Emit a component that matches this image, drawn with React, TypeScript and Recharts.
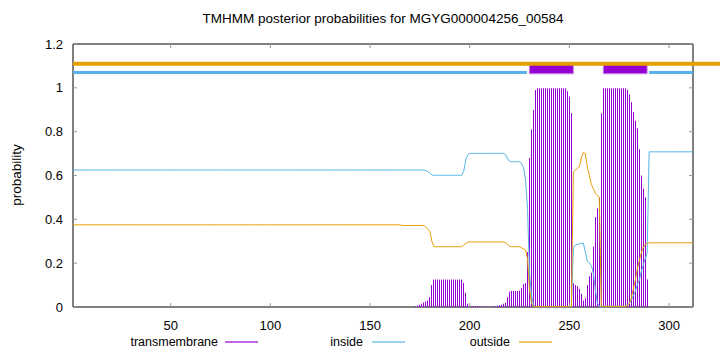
import React from 'react';
import { ComposedChart, Bar, Line, XAxis, YAxis, ReferenceArea, ReferenceLine } from 'recharts';

const FONT = '"Liberation Sans", Arial, Helvetica, sans-serif';

type Part = number | [number, number];
function expand(parts: Part[]): number[] {
  const out: number[] = [];
  for (const p of parts) {
    if (Array.isArray(p)) for (let i = 0; i < p[1]; i++) out.push(p[0]);
    else out.push(p);
  }
  return out;
}

const SEQ_LEN = 312;
const xTicks = [50, 100, 150, 200, 250, 300];
const yTicks = [0, 0.2, 0.4, 0.6, 0.8, 1, 1.2];

// posterior probabilities, run-length encoded: [value, count] or single value
const transmembraneRuns: Part[] = [
  [0, 172],
  0.003, 0.006, 0.01, 0.015, 0.02, 0.025, 0.03, 0.045, 0.1,
  [0.125, 15],
  0.11, 0.065, 0.015, 0.006,
  [0.004, 5],
  [0.002, 7],
  0.004, 0.006, 0.008, 0.01, 0.015, 0.02, 0.045, 0.07,
  [0.073, 4],
  0.075, 0.087, 0.105, 0.11, 0.25, 0.68, 0.81, 0.9, 0.99,
  [0.998, 15],
  0.985, 0.96, 0.885, 0.108, 0.1, 0.095, 0.083, 0.06, 0.03, 0.04, 0.1, 0.14, 0.157, 0.275, 0.41, 0.45, 0.5, 0.884,
  [0.998, 12],
  0.99, 0.97, 0.935, 0.89, 0.85, 0.815, 0.72, 0.6, 0.54, 0.5, 0.126,
  [0, 23],
];

const insideRuns: Part[] = [
  [0.625, 177],
  0.622, 0.618, 0.612, 0.603,
  [0.601, 15],
  0.62, 0.67, 0.695, 0.7,
  [0.701, 17],
  0.695, 0.675, 0.665,
  [0.663, 5],
  0.655, 0.635, 0.58, 0.45, 0.15, 0.05, 0.01,
  [0.002, 19],
  0.27, 0.283, 0.285, 0.288, 0.29, 0.292, 0.25, 0.21, 0.2, 0.19, 0.155, 0.08, 0.02,
  [0.003, 14],
  0.01, 0.015, 0.03, 0.05, 0.07, 0.1, 0.12, 0.16, 0.19, 0.22, 0.245,
  [0.708, 23],
];

const outsideRuns: Part[] = [
  [0.375, 165],
  [0.372, 12],
  0.365, 0.355, 0.345, 0.3,
  [0.275, 15],
  0.282, 0.29, 0.295,
  [0.297, 18],
  0.293, 0.285, 0.278,
  [0.275, 5],
  0.27, 0.265, 0.26, 0.22, 0.08, 0.02,
  [0.002, 20],
  0.617, 0.625, 0.633, 0.64, 0.68, 0.705, 0.7, 0.64, 0.6, 0.56, 0.54, 0.52, 0.51, 0.5,
  [0.003, 13],
  0.005, 0.015, 0.04, 0.08, 0.12, 0.17, 0.21, 0.245, 0.27, 0.285, 0.29,
  [0.293, 23],
];

const transmembrane = expand(transmembraneRuns);
const inside = expand(insideRuns);
const outside = expand(outsideRuns);

// predicted topology
const tmRegions: [number, number][] = [[229.9, 252], [267, 289]];
const insideRegions: [number, number][] = [[1, 228.7], [290, 312]];
const outsideLine: [number, number] = [1, 340];

const data = transmembrane.map((tm, i) => ({
  pos: i + 1,
  tm,
  inside: inside[i],
  outside: outside[i],
}));

const PLOT_LEFT = 73;
const PLOT_RIGHT = 693;
const PLOT_TOP = 44;
const PLOT_BOTTOM = 307;

const TM_COLOR = '#9400d3';
const IN_COLOR = '#56b4e9';
const OUT_COLOR = '#e69f00';

const XTick = (props: any) => {
  const { x, payload } = props;
  return (
    <g>
      <line x1={x} x2={x} y1={PLOT_BOTTOM} y2={PLOT_BOTTOM - 4} stroke="#999" />
      <line x1={x} x2={x} y1={PLOT_TOP} y2={PLOT_TOP + 4} stroke="#999" />
      <text x={x} y={330} textAnchor="middle" fontSize={13} fontFamily={FONT} fill="#000">
        {payload.value}
      </text>
    </g>
  );
};

const fmtY = (v: number) => (v === 0 ? '0' : v === 1 ? '1' : v.toFixed(1));

const YTick = (props: any) => {
  const { y, payload } = props;
  return (
    <g>
      <line x1={PLOT_LEFT} x2={PLOT_LEFT + 4} y1={y} y2={y} stroke="#999" />
      <line x1={PLOT_RIGHT} x2={PLOT_RIGHT - 4} y1={y} y2={y} stroke="#999" />
      <text x={63} y={y + 4.5} textAnchor="end" fontSize={13} fontFamily={FONT} fill="#000">
        {fmtY(payload.value)}
      </text>
    </g>
  );
};

const ImpulseShape = (props: any) => {
  const { x, y, width, height, fill } = props;
  if (!height || height <= 0) return null;
  const cx = Math.round(x + width / 2);
  return <rect x={cx} y={y} width={1} height={height} fill={fill} />;
};

const legendItems = [
  { label: 'transmembrane', color: TM_COLOR, textRight: 218, lineLeft: 225 },
  { label: 'inside', color: IN_COLOR, textRight: 363, lineLeft: 372 },
  { label: 'outside', color: OUT_COLOR, textRight: 510, lineLeft: 519 },
];

export default function App() {
  return (
    <div style={{ position: 'absolute', left: 0, top: 0, width: 720, height: 352, background: '#fff', fontFamily: FONT }}>
      <ComposedChart
        width={720}
        height={352}
        data={data}
        margin={{ top: PLOT_TOP, right: 720 - PLOT_RIGHT, bottom: 15, left: 13 }}
      >
        <XAxis
          dataKey="pos"
          type="number"
          domain={[1, SEQ_LEN]}
          ticks={xTicks}
          allowDataOverflow
          height={30}
          axisLine={false}
          tickLine={false}
          tick={<XTick />}
          interval={0}
        />
        <YAxis
          type="number"
          domain={[0, 1.2]}
          ticks={yTicks}
          width={60}
          axisLine={false}
          tickLine={false}
          tick={<YTick />}
          interval={0}
        />
        <Bar dataKey="tm" fill={TM_COLOR} barSize={1} shape={<ImpulseShape />} isAnimationActive={false} />
        <Line dataKey="inside" type="linear" stroke={IN_COLOR} strokeWidth={1} dot={false} activeDot={false} isAnimationActive={false} />
        <Line dataKey="outside" type="linear" stroke={OUT_COLOR} strokeWidth={1} dot={false} activeDot={false} isAnimationActive={false} />
        <ReferenceLine
          segment={[{ x: outsideLine[0], y: 1.11 }, { x: outsideLine[1], y: 1.11 }]}
          stroke={OUT_COLOR}
          strokeWidth={4}
          ifOverflow="visible"
        />
        {insideRegions.map(([a, b], i) => (
          <ReferenceLine
            key={'in' + i}
            segment={[{ x: a, y: 1.07 }, { x: b, y: 1.07 }]}
            stroke={IN_COLOR}
            strokeWidth={3}
            ifOverflow="visible"
          />
        ))}
        {tmRegions.map(([a, b], i) => (
          <ReferenceArea
            key={'tm' + i}
            x1={a}
            x2={b}
            y1={1.064}
            y2={1.115}
            fill={TM_COLOR}
            fillOpacity={1}
            stroke="#c98ee6"
            strokeWidth={1}
            ifOverflow="visible"
          />
        ))}
        <ReferenceArea
          x1={1}
          x2={SEQ_LEN}
          y1={0}
          y2={1.2}
          fill="none"
          fillOpacity={0}
          stroke="#000"
          strokeWidth={1}
          ifOverflow="visible"
        />
      </ComposedChart>
      <div
        style={{
          position: 'absolute',
          left: 0,
          width: 766,
          top: 11,
          textAlign: 'center',
          fontSize: 13.5,
          lineHeight: '16px',
          color: '#000',
        }}
      >
        TMHMM posterior probabilities for MGYG000004256_00584
      </div>
      <div
        style={{
          position: 'absolute',
          left: 17 - 50,
          top: 175 - 8,
          width: 100,
          height: 16,
          lineHeight: '16px',
          textAlign: 'center',
          fontSize: 13.5,
          transform: 'rotate(-90deg)',
          color: '#000',
        }}
      >
        probability
      </div>
      {legendItems.map((it) => (
        <React.Fragment key={it.label}>
          <div
            style={{
              position: 'absolute',
              left: it.textRight - 150,
              width: 150,
              top: 334,
              lineHeight: '16px',
              textAlign: 'right',
              fontSize: 12.5,
              color: '#000',
            }}
          >
            {it.label}
          </div>
          <div
            style={{
              position: 'absolute',
              left: it.lineLeft,
              top: 341,
              width: 33,
              height: 2,
              background: it.color,
              opacity: 0.6,
            }}
          />
        </React.Fragment>
      ))}
    </div>
  );
}
